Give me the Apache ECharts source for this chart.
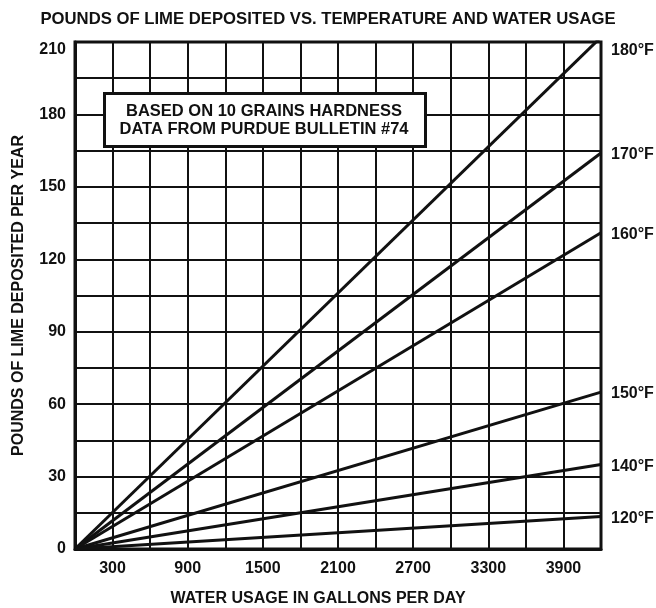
<!DOCTYPE html>
<html>
<head>
<meta charset="utf-8">
<title>Pounds of Lime Deposited vs. Temperature and Water Usage</title>
<script src="https://cdn.jsdelivr.net/npm/echarts@6/dist/echarts.min.js"></script>
<style>
  html, body { margin: 0; padding: 0; background: #ffffff; }
  #chart { width: 656px; height: 608px; }
</style>
</head>
<body>
<div id="chart"></div>
<script>
// Water usage range (gallons per day) and grid step
const usageMax = 4200;
const usageStep = 300;
// Labelled usage ticks
const usageTickLabels = [300, 900, 1500, 2100, 2700, 3300, 3900];

// Lime deposited range (pounds per year) and grid step
const limeMax = 210;
const limeStep = 15;
const limeTickLabels = [0, 30, 60, 90, 120, 150, 180, 210];

// Water temperatures, one straight line each from the origin
const temperatures = ['180°F', '170°F', '160°F', '150°F', '140°F', '120°F'];
// Pounds per year reached at the full usage range (4200 gal/day)
const limeAtMaxUsage = [212, 164, 131, 65, 35, 13.5];

const noteLines = ['BASED ON 10 GRAINS HARDNESS', 'DATA FROM PURDUE BULLETIN #74'];

const ink = '#111111';
const font = '"Liberation Sans", Arial, Helvetica, sans-serif';

const chart = echarts.init(document.getElementById('chart'), null, { renderer: 'canvas' });

const series = temperatures.map((name, i) => ({
  name: name,
  type: 'line',
  data: [[0, 0], [usageMax, limeAtMaxUsage[i]]],
  symbol: 'none',
  clip: true,
  lineStyle: { color: ink, width: 3 },
  endLabel: {
    show: true,
    formatter: '{a}',
    color: ink,
    fontFamily: font,
    fontWeight: 'bold',
    fontSize: 16,
    distance: 10,
    offset: i === 0 ? [0, 13] : [0, 2]
  },
  z: 3
}));

chart.setOption({
  animation: false,
  backgroundColor: '#ffffff',
  title: {
    text: 'POUNDS OF LIME DEPOSITED VS. TEMPERATURE AND WATER USAGE',
    left: 'center',
    top: 6,
    textStyle: { color: ink, fontFamily: font, fontWeight: 'bold', fontSize: 16.7 }
  },
  grid: {
    left: 75, right: 55, top: 42, bottom: 59,
    outerBoundsMode: 'none',
    containLabel: false,
    show: true,
    borderColor: ink,
    borderWidth: 3,
    backgroundColor: 'transparent'
  },
  xAxis: {
    type: 'value',
    min: 0,
    max: usageMax,
    interval: usageStep,
    name: 'WATER USAGE IN GALLONS PER DAY',
    nameLocation: 'middle',
    nameGap: 42,
    nameTextStyle: { color: ink, fontFamily: font, fontWeight: 'bold', fontSize: 16, padding: [0, 40, 0, 0] },
    axisLine: { show: true, lineStyle: { color: ink, width: 3 } },
    axisTick: { show: false },
    axisLabel: {
      color: ink, fontFamily: font, fontWeight: 'bold', fontSize: 16, margin: 12,
      showMinLabel: true, showMaxLabel: true,
      formatter: v => (usageTickLabels.includes(v) ? String(v) : '')
    },
    splitLine: { show: true, lineStyle: { color: ink, width: 2 } }
  },
  yAxis: {
    type: 'value',
    min: 0,
    max: limeMax,
    interval: limeStep,
    name: 'POUNDS OF LIME DEPOSITED PER YEAR',
    nameLocation: 'middle',
    nameGap: 48,
    nameTextStyle: { color: ink, fontFamily: font, fontWeight: 'bold', fontSize: 16 },
    axisLine: { show: true, lineStyle: { color: ink, width: 3 } },
    axisTick: { show: false },
    axisLabel: {
      color: ink, fontFamily: font, fontWeight: 'bold', fontSize: 16, margin: 9,
      // the top label sits a little below the top border
      formatter: v => (limeTickLabels.includes(v) ? (v === limeMax ? '{top|' + v + '}' : String(v)) : ''),
      rich: {
        top: { color: ink, fontFamily: font, fontWeight: 'bold', fontSize: 16, padding: [16, 0, 0, 0] }
      }
    },
    splitLine: { show: true, lineStyle: { color: ink, width: 2 } }
  },
  series: series,
  graphic: [{
    type: 'rect',
    left: 103,
    top: 92,
    z: 100,
    shape: { width: 321, height: 53 },
    style: { fill: '#ffffff', stroke: ink, lineWidth: 3 }
  }, {
    type: 'text',
    x: 264,
    y: 120,
    z: 101,
    style: {
      text: noteLines.join('\n'),
      fill: ink,
      font: 'bold 16.5px ' + font,
      align: 'center',
      verticalAlign: 'middle',
      lineHeight: 18
    }
  }]
});
</script>
</body>
</html>
